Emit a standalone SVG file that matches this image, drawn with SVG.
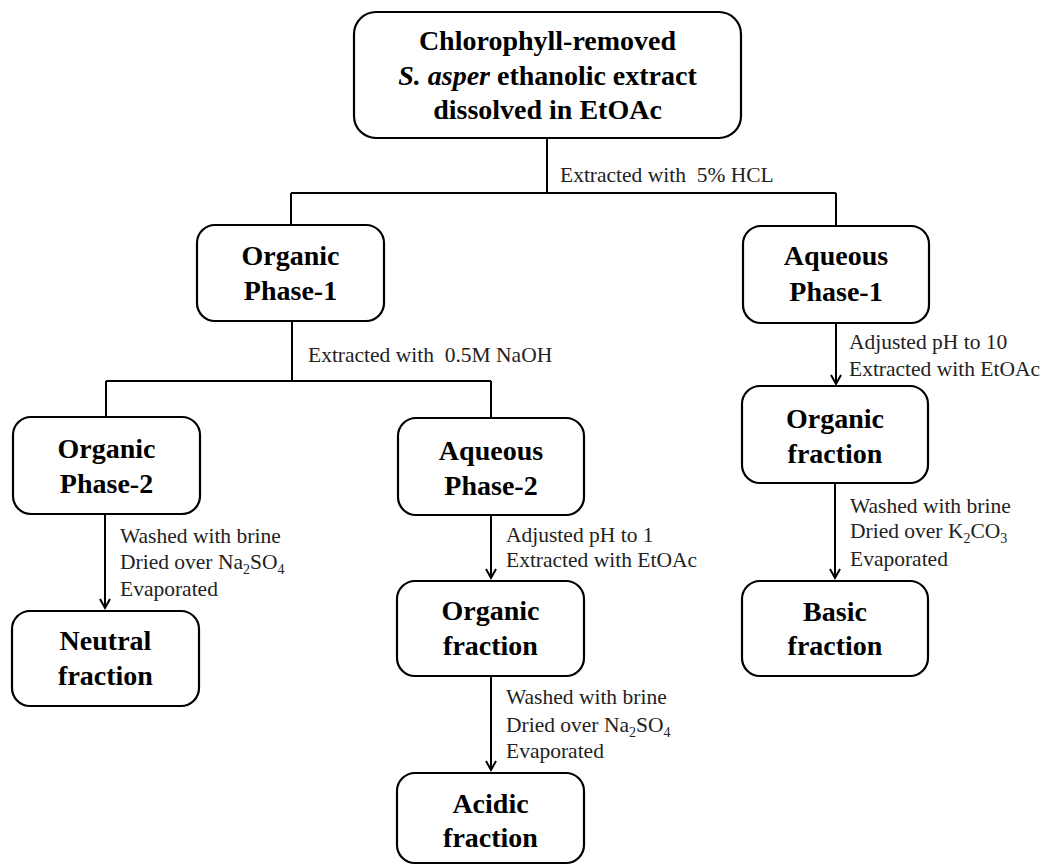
<svg xmlns="http://www.w3.org/2000/svg" width="1045" height="866" viewBox="0 0 1045 866">
<style>
.box{fill:#fff;stroke:#000;stroke-width:2.2}
.ln{fill:none;stroke:#000;stroke-width:2}
.t{font-family:"Liberation Serif","Times New Roman",serif;font-weight:bold;font-size:28px;fill:#000;text-anchor:middle}
.l{font-family:"Liberation Serif","Times New Roman",serif;font-size:21.5px;fill:#222}
.s{font-size:14px}
</style>
<defs>
<marker id="arr" markerUnits="userSpaceOnUse" markerWidth="20" markerHeight="20" orient="auto" overflow="visible" refX="0" refY="0">
<path d="M-9,-5 L0,0 L-9,5" fill="none" stroke="#000" stroke-width="2"/>
</marker>
</defs>
<g id="connectors">
<path class="ln" d="M547,138 V193 M291,193 H836 M291,193 V225 M836,193 V226"/>
<path class="ln" d="M292,321 V381 M106,381 H491 M106,381 V417 M491,381 V418"/>
<path class="ln" d="M836,323 V384" marker-end="url(#arr)"/>
<path class="ln" d="M105,514 V608" marker-end="url(#arr)"/>
<path class="ln" d="M491,515 V578" marker-end="url(#arr)"/>
<path class="ln" d="M491,676 V770" marker-end="url(#arr)"/>
<path class="ln" d="M835,483 V578" marker-end="url(#arr)"/>
<text class="l" x="560" y="182" xml:space="preserve">Extracted with  5% HCL</text>
<text class="l" x="308" y="362" xml:space="preserve">Extracted with  0.5M NaOH</text>
<text class="l" x="849" y="349">Adjusted pH to 10</text>
<text class="l" x="849" y="376">Extracted with EtOAc</text>
<text class="l" x="120" y="543">Washed with brine</text>
<text class="l" x="120" y="569">Dried over Na<tspan class="s" dy="5">2</tspan><tspan dy="-5">SO</tspan><tspan class="s" dy="5">4</tspan></text>
<text class="l" x="120" y="596">Evaporated</text>
<text class="l" x="506" y="542">Adjusted pH to 1</text>
<text class="l" x="506" y="567">Extracted with EtOAc</text>
<text class="l" x="506" y="704">Washed with brine</text>
<text class="l" x="506" y="732">Dried over Na<tspan class="s" dy="5">2</tspan><tspan dy="-5">SO</tspan><tspan class="s" dy="5">4</tspan></text>
<text class="l" x="506" y="758">Evaporated</text>
<text class="l" x="850" y="513">Washed with brine</text>
<text class="l" x="850" y="538">Dried over K<tspan class="s" dy="5">2</tspan><tspan dy="-5">CO</tspan><tspan class="s" dy="5">3</tspan></text>
<text class="l" x="850" y="566">Evaporated</text>
</g>
<g id="start">
<rect class="box" x="354" y="12" width="387" height="126" rx="22"/>
<text class="t" x="547.5" y="50">Chlorophyll-removed</text>
<text class="t" x="547.5" y="85"><tspan font-style="italic">S. asper</tspan> ethanolic extract</text>
<text class="t" x="547.5" y="119">dissolved in EtOAc</text>
</g>
<g id="organic-phase-1">
<rect class="box" x="197" y="225" width="187" height="96" rx="18"/>
<text class="t" x="290.5" y="265">Organic</text>
<text class="t" x="290.5" y="300">Phase-1</text>
</g>
<g id="aqueous-phase-1">
<rect class="box" x="743" y="226" width="186" height="97" rx="18"/>
<text class="t" x="836" y="265">Aqueous</text>
<text class="t" x="836" y="301">Phase-1</text>
</g>
<g id="organic-phase-2">
<rect class="box" x="13" y="417" width="187" height="97" rx="18"/>
<text class="t" x="106.5" y="458">Organic</text>
<text class="t" x="106.5" y="493">Phase-2</text>
</g>
<g id="aqueous-phase-2">
<rect class="box" x="398" y="418" width="186" height="97" rx="18"/>
<text class="t" x="491" y="460">Aqueous</text>
<text class="t" x="491" y="495">Phase-2</text>
</g>
<g id="organic-fraction-acid">
<rect class="box" x="397" y="581" width="187" height="95" rx="18"/>
<text class="t" x="490.5" y="620">Organic</text>
<text class="t" x="490.5" y="655">fraction</text>
</g>
<g id="organic-fraction-base">
<rect class="box" x="742" y="386" width="186" height="97" rx="18"/>
<text class="t" x="835" y="428">Organic</text>
<text class="t" x="835" y="463">fraction</text>
</g>
<g id="neutral-fraction">
<rect class="box" x="12" y="611" width="187" height="95" rx="18"/>
<text class="t" x="105.5" y="650">Neutral</text>
<text class="t" x="105.5" y="685">fraction</text>
</g>
<g id="acidic-fraction">
<rect class="box" x="397" y="773" width="187" height="90" rx="18"/>
<text class="t" x="490.5" y="813">Acidic</text>
<text class="t" x="490.5" y="847">fraction</text>
</g>
<g id="basic-fraction">
<rect class="box" x="742" y="581" width="186" height="95" rx="18"/>
<text class="t" x="835" y="621">Basic</text>
<text class="t" x="835" y="655">fraction</text>
</g>
</svg>
